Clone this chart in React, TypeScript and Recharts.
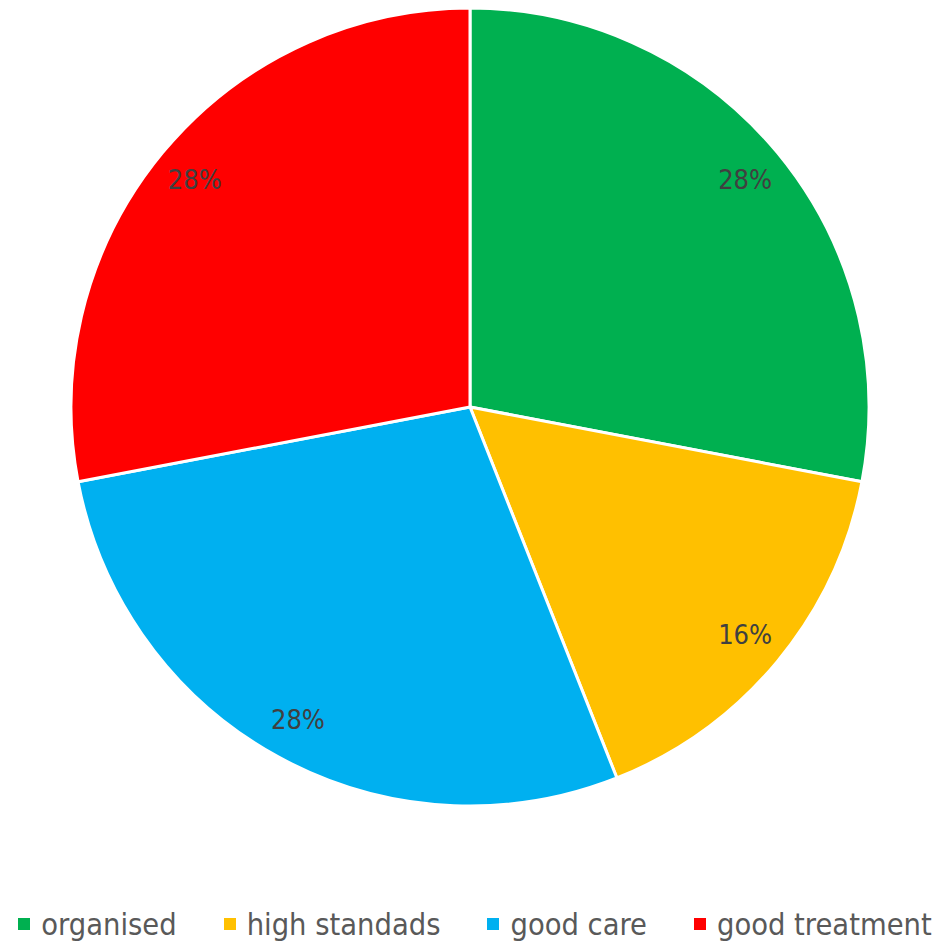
import React from "react";
import { PieChart, Pie, Cell, Legend } from "recharts";

const categories = ["organised", "high standads", "good care", "good treatment"];
const values = [7, 4, 7, 7];
const colors = ["#00B050", "#FFC000", "#00B0F0", "#FF0000"];

const data = categories.map((name, i) => ({ name, value: values[i] }));

const FONT = "'DejaVu Sans Condensed', 'Liberation Sans Narrow', 'Noto Sans', sans-serif";
const RAD = Math.PI / 180;

const renderLabel = (p: any) => {
  const r = p.outerRadius * 0.895;
  const x = p.cx + r * Math.cos(-p.midAngle * RAD);
  const y = p.cy + r * Math.sin(-p.midAngle * RAD);
  return (
    <text x={x} y={y} fill="#404040" fontSize={27} fontFamily={FONT} textAnchor="middle" dominantBaseline="central">
      {`${Math.round(p.percent * 100)}%`}
    </text>
  );
};

// keep the legend in data order (Recharts sorts the payload by name)
const renderLegend = () => (
  <div style={{ display: "flex", justifyContent: "center", gap: 47, paddingLeft: 9, fontFamily: FONT, fontSize: 30.5, color: "#595959", lineHeight: "36px", whiteSpace: "nowrap" }}>
    {categories.map((name, i) => (
      <div key={name} style={{ display: "flex", alignItems: "center" }}>
        <span style={{ display: "inline-block", width: 12, height: 12, background: colors[i], marginRight: 11, position: "relative", top: -1 }} />
        <span>{name}</span>
      </div>
    ))}
  </div>
);

export default function App() {
  return (
    <PieChart width={925} height={934}>
      <Pie
        data={data}
        dataKey="value"
        nameKey="name"
        cx={457}
        cy={394}
        outerRadius={399}
        startAngle={90}
        endAngle={-270}
        stroke="#ffffff"
        strokeWidth={3}
        label={renderLabel}
        labelLine={false}
        isAnimationActive={false}
      >
        {data.map((d, i) => (
          <Cell key={d.name} fill={colors[i]} />
        ))}
      </Pie>
      <Legend
        content={renderLegend}
        verticalAlign="bottom"
        wrapperStyle={{ position: "absolute", left: 0, top: 899, width: 925 }}
      />
    </PieChart>
  );
}
